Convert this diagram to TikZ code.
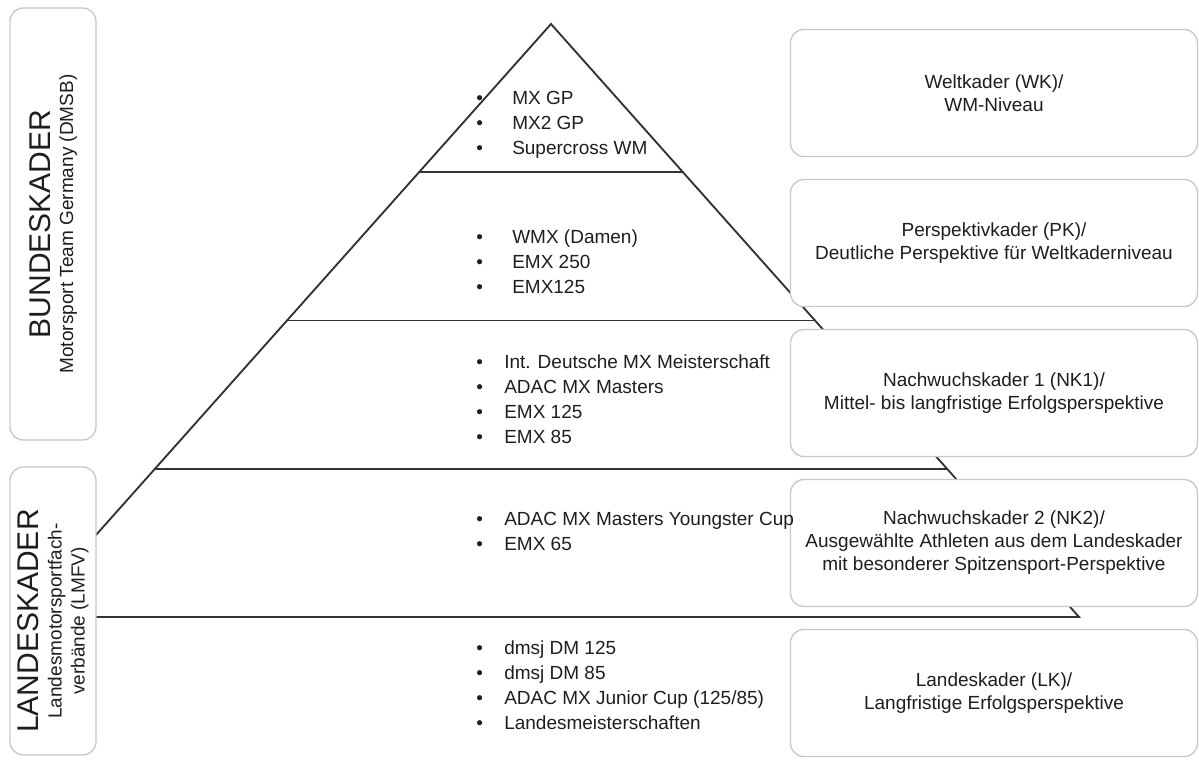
\documentclass[tikz,border=0pt]{standalone}
\usepackage{fontspec}
\setmainfont{Liberation Sans}
\usetikzlibrary{calc,positioning}

\definecolor{linegray}{HTML}{333333}
\definecolor{boxgray}{HTML}{C8C8C8}
\definecolor{textgray}{HTML}{1E1E1E}

\newcommand{\bulA}{\makebox[27pt][l]{\textbullet}}
\newcommand{\bulB}{\makebox[21pt][l]{\textbullet}}

\begin{document}
\begin{tikzpicture}[x=0.75pt, y=-0.75pt,
        pyr/.style={draw=linegray, line width=1.4pt},
        kader/.style={draw=boxgray, line width=1pt, rounded corners=10pt, fill=white, text=textgray, align=center,
            font=\fontsize{14.25}{17.25}\selectfont, minimum width=305.25pt, minimum height=95.25pt, inner sep=0pt, outer sep=0pt},
        verband/.style={draw=boxgray, line width=1pt, rounded corners=10pt, fill=white, rotate=90, minimum height=64.5pt, inner sep=0pt, outer sep=0pt},
        vlabel/.style={rotate=90, align=center, text=textgray, font=\fontsize{14.25}{17.25}\selectfont},
        lvl/.style={align=left, text=textgray, font=\fontsize{14.25}{18.75}\selectfont, inner sep=0pt, anchor=base west}]
    \useasboundingbox (0,0) rectangle (1199,760);

    % pyramid
    \coordinate (top) at (551,24);
    \coordinate (bl) at (23,617);
    \coordinate (br) at (1079,617);
    \draw[pyr] (bl) -- (top) -- (br) -- cycle;
    \foreach \f in {0.25,0.5,0.75}
        \draw[pyr] ($(top)!\f!(bl)$) -- ($(top)!\f!(br)$);

    % left side
    \node[verband, minimum width=324pt] (bund) at (53,224) {};
    \node[verband, minimum width=216pt] (land) at (53,611) {};
    \node[vlabel] (bundlbl) at (bund.center) {{\fontsize{22.5}{24}\selectfont BUNDESKADER}\\Motorsport Team Germany (DMSB)};
    \node[vlabel] (landlbl) at ($(land.center)+(0,10)$) {{\fontsize{22.5}{24}\selectfont LANDESKADER}\\Landesmotorsportfach-\\verbände (LMFV)};

    % right side
    \node[kader] (wk) at (994,93) {Weltkader (WK)/\\WM-Niveau};
    \node[kader, below=17.25pt of wk] (pk) {Perspektivkader (PK)/\\Deutliche Perspektive für Weltkaderniveau};
    \node[kader, below=17.25pt of pk] (nk1) {Nachwuchskader 1 (NK1)/\\Mittel- bis langfristige Erfolgsperspektive};
    \node[kader, below=17.25pt of nk1] (nk2) {Nachwuchskader 2 (NK2)/\\Ausgewählte Athleten aus dem Landeskader\\mit besonderer Spitzensport-Perspektive};
    \node[kader, below=17.25pt of nk2] (lk) {Landeskader (LK)/\\Langfristige Erfolgsperspektive};

    % competitions (anchored at the last line)
    \node[lvl] (lv1) at (476,154) {\bulA MX GP\\\bulA MX2 GP\\\bulA Supercross WM};
    \node[lvl] (lv2) at (476,293) {\bulA WMX (Damen)\\\bulA EMX 250\\\bulA EMX125};
    \node[lvl] (lv3) at (476,443) {\bulB Int. Deutsche MX Meisterschaft\\\bulB ADAC MX Masters\\\bulB EMX 125\\\bulB EMX 85};
    \node[lvl] (lv4) at (476,550) {\bulB ADAC MX Masters Youngster Cup\\\bulB EMX 65};
    \node[lvl] (lv5) at (476,729) {\bulB dmsj DM 125\\\bulB dmsj DM 85\\\bulB ADAC MX Junior Cup (125/85)\\\bulB Landesmeisterschaften};
\end{tikzpicture}
\end{document}
